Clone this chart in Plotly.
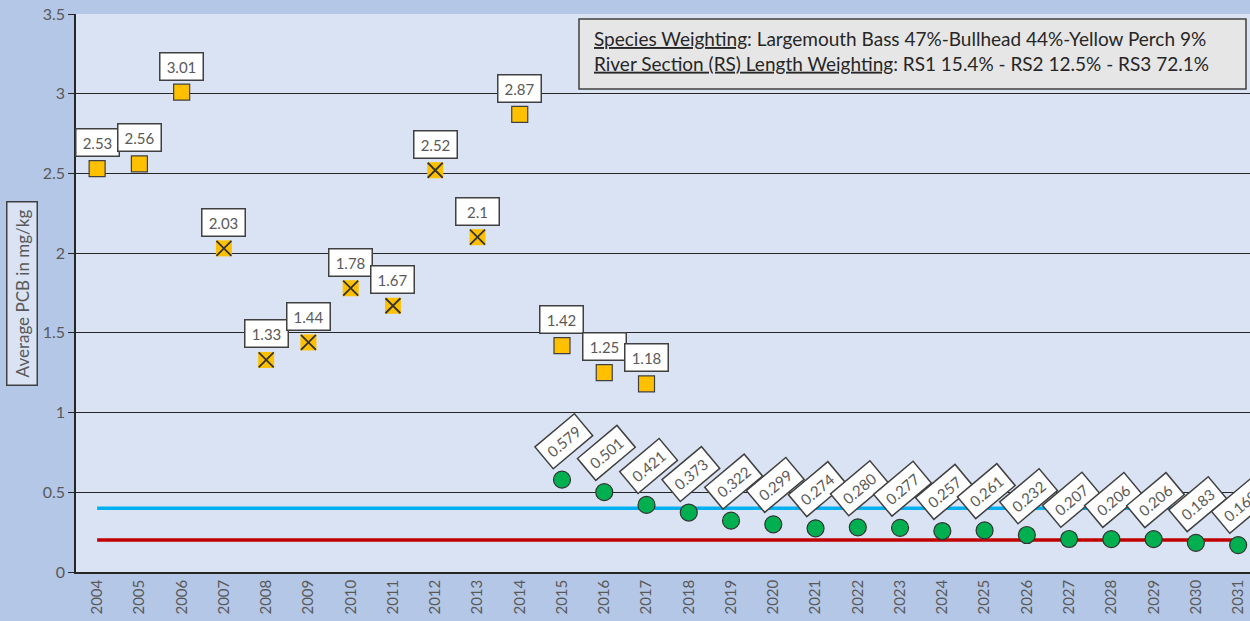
import plotly.graph_objects as go

years = list(range(2004, 2032))

sq_years = [2004, 2005, 2006, 2014, 2015, 2016, 2017]
sq_vals = [2.53, 2.56, 3.01, 2.87, 1.42, 1.25, 1.18]
sq_text = ["2.53", "2.56", "3.01", "2.87", "1.42", "1.25", "1.18"]

xs_years = [2007, 2008, 2009, 2010, 2011, 2012, 2013]
xs_vals = [2.03, 1.33, 1.44, 1.78, 1.67, 2.52, 2.10]
xs_text = ["2.03", "1.33", "1.44", "1.78", "1.67", "2.52", "2.1"]

gr_years = list(range(2015, 2032))
gr_vals = [0.579, 0.501, 0.421, 0.373, 0.322, 0.299, 0.274, 0.280, 0.277,
           0.257, 0.261, 0.232, 0.207, 0.206, 0.206, 0.183, 0.169]
gr_text = ["0.579", "0.501", "0.421", "0.373", "0.322", "0.299", "0.274", "0.280", "0.277",
           "0.257", "0.261", "0.232", "0.207", "0.206", "0.206", "0.183", "0.169"]

blue_level = [0.4] * len(years)
red_level = [0.2] * len(years)

FONT = "Lato"
GRAY = "#595959"
DARK = "#404040"

fig = go.Figure()
fig.add_trace(go.Scatter(x=years, y=blue_level, mode="lines",
                         line=dict(color="#00b0f0", width=3.5), hoverinfo="skip"))
fig.add_trace(go.Scatter(x=years, y=red_level, mode="lines",
                         line=dict(color="#c00000", width=3.5), hoverinfo="skip"))
fig.add_trace(go.Scatter(x=sq_years, y=sq_vals, mode="markers",
                         marker=dict(symbol="square", size=16, color="#ffc000",
                                     line=dict(color=DARK, width=1.2))))
fig.add_trace(go.Scatter(x=xs_years, y=xs_vals, mode="markers",
                         marker=dict(symbol="square", size=16, color="#ffc000",
                                     line=dict(width=0))))
fig.add_trace(go.Scatter(x=xs_years, y=xs_vals, mode="markers",
                         marker=dict(symbol="x-thin", size=15, color=DARK,
                                     line=dict(color="#333333", width=1.8))))
fig.add_trace(go.Scatter(x=gr_years, y=gr_vals, mode="markers",
                         marker=dict(symbol="circle", size=17, color="#00b050",
                                     line=dict(color="#333333", width=1.2))))

annotations = []
for x, y, t in list(zip(sq_years, sq_vals, sq_text)) + list(zip(xs_years, xs_vals, xs_text)):
    annotations.append(dict(x=x, y=y, xref="x", yref="y", text=t, showarrow=False,
                            xanchor="center", yanchor="middle", yshift=26,
                            width=40, height=24, borderpad=1, borderwidth=1.5,
                            bordercolor=DARK, bgcolor="white",
                            font=dict(family=FONT, size=15, color=GRAY)))
for x, y, t in zip(gr_years, gr_vals, gr_text):
    annotations.append(dict(x=x, y=y, xref="x", yref="y", text=t, showarrow=False,
                            xanchor="center", yanchor="middle", yshift=39, xshift=2,
                            textangle=-40,
                            width=48, height=25, borderpad=1, borderwidth=1.5,
                            bordercolor=DARK, bgcolor="white",
                            font=dict(family=FONT, size=15, color=GRAY)))

PW, PH, PL, PB = 1174, 558, 76, 572  # plot width/height, left px, bottom px


def px_x(p):
    return (p - PL) / PW


def px_y(p):
    return (PB - p) / PH


annotations.append(dict(
    x=px_x(592), y=px_y(51), xref="paper", yref="paper",
    text="<u>Species Weighting</u>: Largemouth Bass 47%-Bullhead 44%-Yellow Perch 9%<br>"
         "<u>River Section (RS) Length Weighting</u>: RS1 15.4% - RS2 12.5% - RS3 72.1%",
    showarrow=False, xanchor="left", yanchor="middle", align="left",
    font=dict(family=FONT, size=19, color="#262626")))

annotations.append(dict(
    x=px_x(22), y=px_y(294), xref="paper", yref="paper",
    text="Average PCB in mg/kg", textangle=-90, showarrow=False,
    xanchor="center", yanchor="middle", width=180, height=27,
    borderpad=1, borderwidth=1.5, bordercolor=DARK, bgcolor="#dae3f3",
    font=dict(family=FONT, size=17, color=GRAY)))

shapes = [dict(type="rect", xref="paper", yref="paper",
               x0=px_x(579), x1=px_x(1246), y0=px_y(89), y1=px_y(19),
               fillcolor="#e7e6e6", line=dict(color=DARK, width=1.5), layer="above")]

fig.update_layout(
    width=1250, height=621,
    margin=dict(l=76, r=0, t=14, b=49),
    paper_bgcolor="#b4c7e7", plot_bgcolor="#dae3f3",
    showlegend=False,
    annotations=annotations,
    shapes=shapes,
    font=dict(family=FONT, color=GRAY),
)
fig.update_xaxes(
    range=[2003.5, 2003.5 + 1174 / 42.26],
    tickmode="array", tickvals=years, ticktext=[str(y) for y in years],
    tickangle=-90, tickfont=dict(family=FONT, size=15, color=GRAY),
    showgrid=False, zeroline=False, showline=True, linecolor="#262626", linewidth=1.5,
    ticks="", fixedrange=True,
)
fig.update_yaxes(
    range=[0, 3.5], tickvals=[0, 0.5, 1, 1.5, 2, 2.5, 3, 3.5],
    ticktext=["0", "0.5", "1", "1.5", "2", "2.5", "3", "3.5"],
    tickfont=dict(family=FONT, size=16, color=GRAY),
    showgrid=True, gridcolor="#262626", gridwidth=1,
    zeroline=False, showline=True, linecolor="#262626", linewidth=1.5,
    ticks="outside", ticklen=6, tickcolor="#262626",
)

fig.write_html(
    "out.html",
    config={"displayModeBar": False},
    post_script="document.body.style.margin='0';document.body.style.overflow='hidden';"
                "document.body.style.background='#b4c7e7';",
)
